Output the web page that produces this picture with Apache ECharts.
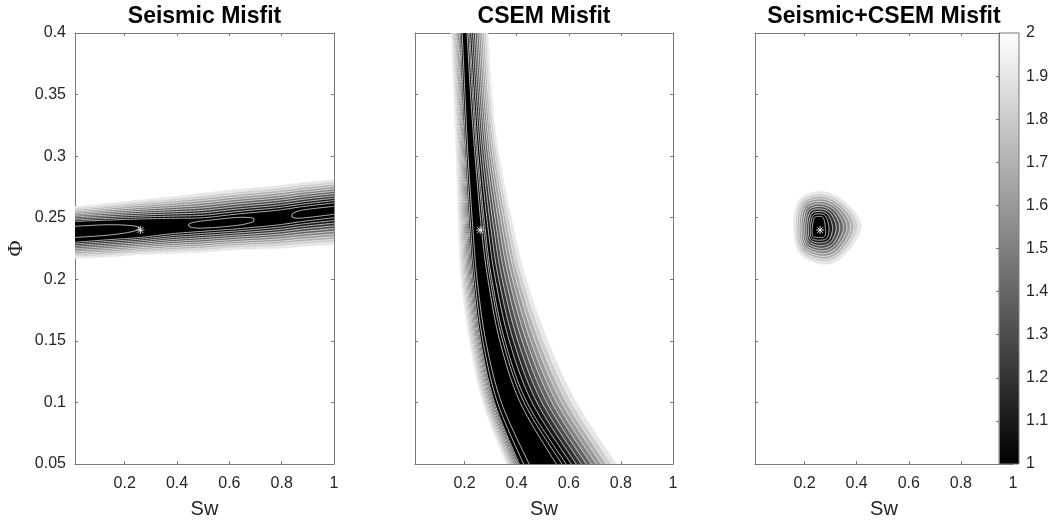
<!DOCTYPE html>
<html>
<head>
<meta charset="utf-8">
<script src="https://cdn.jsdelivr.net/npm/echarts@6/dist/echarts.min.js"></script>
<style>
  html, body { margin: 0; padding: 0; background: #ffffff; }
  #chart { width: 1055px; height: 525px; }
</style>
</head>
<body>
<div id="chart"></div>
<script>
// ---------------------------------------------------------------------------
// Data
// ---------------------------------------------------------------------------
// Contour levels of the misfit surfaces; colour axis spans 1 (black) .. 2 (white)
const contourLevels = [0.9, 0.95, 1.0, 1.1, 1.2, 1.3, 1.4, 1.5, 1.6, 1.7, 1.8, 1.9, 2.0];
const colorRange = [1, 2];
const swRange = [0.01, 1];
const phiRange = [0.05, 0.4];
const swTicks = [0.2, 0.4, 0.6, 0.8, 1];
const phiTickStep = 0.05;
const colorTickStep = 0.1;
// true model (Sw, Phi)
const trueModel = [0.26, 0.24];

// Seismic misfit valley, sampled along Sw: Phi of the misfit-2 and misfit-1 edges, and valley floor
const seisSw      = [0.01, 0.13, 0.26, 0.38, 0.50, 0.63, 0.78, 0.88, 1.00];
const seisOuterLo = [0.217, 0.218, 0.220, 0.221, 0.222, 0.224, 0.225, 0.2265, 0.228];
const seisCoreLo  = [0.230, 0.232, 0.234, 0.237, 0.239, 0.241, 0.244, 0.247, 0.250];
const seisCoreHi  = [0.247, 0.248, 0.249, 0.2495, 0.250, 0.253, 0.256, 0.259, 0.262];
const seisOuterHi = [0.259, 0.2615, 0.2645, 0.267, 0.270, 0.273, 0.276, 0.2785, 0.281];
const seisFloor   = [0.93, 0.93, 0.95, 0.97, 0.93, 0.93, 0.97, 0.93, 0.93];

// CSEM misfit valley, sampled along Phi: Sw of the misfit-2 and misfit-1 edges, and valley floor
const csemPhi     = [0.40, 0.35, 0.30, 0.24, 0.20, 0.15, 0.10, 0.05];
const csemOuterLo = [0.149, 0.159, 0.168, 0.177, 0.187, 0.219, 0.270, 0.360];
const csemCoreLo  = [0.181, 0.190, 0.202, 0.218, 0.233, 0.262, 0.315, 0.410];
const csemCoreHi  = [0.220, 0.235, 0.252, 0.280, 0.305, 0.355, 0.440, 0.590];
const csemOuterHi = [0.290, 0.305, 0.333, 0.390, 0.437, 0.520, 0.630, 0.783];
const csemFloor   = [0.87, 0.87, 0.86, 0.86, 0.85, 0.85, 0.85, 0.85];

// Joint misfit bowl: centre, misfit-1 and misfit-2 outlines (E, NE, N, NW, W, SW, S, SE)
const jointCentre = [0.255, 0.243];
const jointCoreSw  = [0.280, 0.272, 0.255, 0.238, 0.230, 0.232, 0.255, 0.278];
const jointCorePhi = [0.242, 0.250, 0.251, 0.250, 0.242, 0.235, 0.234, 0.235];
const jointOuterSw  = [0.418, 0.360, 0.270, 0.181, 0.158, 0.181, 0.280, 0.360];
const jointOuterPhi = [0.243, 0.262, 0.2714, 0.265, 0.243, 0.221, 0.212, 0.221];
const jointFloor = 0.96;

// ---------------------------------------------------------------------------
// Styling
// ---------------------------------------------------------------------------
const fontFamily = '"Liberation Sans", Arial, Helvetica, sans-serif';
const textColor = '#262626';
const frameColor = '#7a7a7a';
const lineColor = 'rgba(238,238,238,0.95)';
const lineWidth = 0.8;
const gridTop = 33, gridHeight = 431;
const panels = [
  { left: 75,  width: 259, title: 'Seismic Misfit',      showY: true  },
  { left: 415, width: 258, title: 'CSEM Misfit',         showY: false },
  { left: 755, width: 258, title: 'Seismic+CSEM Misfit', showY: false }
];
const colorbarBox = { left: 999, width: 20 };

const levelsAsc = contourLevels.slice().sort((a, b) => a - b);
const levelsDesc = levelsAsc.slice().reverse();

// the band just below contour c is coloured by its lower level
function lowerLevel(c) {
  const i = levelsAsc.indexOf(c);
  return i > 0 ? levelsAsc[i - 1] : c - 0.05;
}

// MATLAB-like 64-entry grey colormap lookup
function bandColor(level) {
  const v = (level - colorRange[0]) / (colorRange[1] - colorRange[0]);
  if (v < 0) return '#000000';
  const idx = Math.min(63, Math.floor(v * 64 + 1e-9));
  const g = Math.round(idx / 63 * 255);
  return 'rgb(' + g + ',' + g + ',' + g + ')';
}

// Catmull-Rom smoothing of sampled values (open and closed)
function smoothOpen(vals, seg) {
  const n = vals.length, out = [];
  for (let i = 0; i < n - 1; i++) {
    const p0 = vals[Math.max(i - 1, 0)], p1 = vals[i], p2 = vals[i + 1], p3 = vals[Math.min(i + 2, n - 1)];
    for (let k = 0; k < seg; k++) {
      const t = k / seg, t2 = t * t, t3 = t2 * t;
      out.push(0.5 * (2 * p1 + (-p0 + p2) * t + (2 * p0 - 5 * p1 + 4 * p2 - p3) * t2 + (-p0 + 3 * p1 - 3 * p2 + p3) * t3));
    }
  }
  out.push(vals[n - 1]);
  return out;
}
function smoothClosed(vals, seg) {
  const n = vals.length, out = [];
  for (let i = 0; i < n; i++) {
    const p0 = vals[(i - 1 + n) % n], p1 = vals[i], p2 = vals[(i + 1) % n], p3 = vals[(i + 2) % n];
    for (let k = 0; k < seg; k++) {
      const t = k / seg, t2 = t * t, t3 = t2 * t;
      out.push(0.5 * (2 * p1 + (-p0 + p2) * t + (2 * p0 - 5 * p1 + 4 * p2 - p3) * t2 + (-p0 + 3 * p1 - 3 * p2 + p3) * t3));
    }
  }
  return out;
}

function makeBand(along, pos, outerLo, coreLo, coreHi, outerHi, floor) {
  const seg = 24;
  return {
    along: along,
    pos: smoothOpen(pos, seg),
    outerLo: smoothOpen(outerLo, seg),
    coreLo: smoothOpen(coreLo, seg),
    coreHi: smoothOpen(coreHi, seg),
    outerHi: smoothOpen(outerHi, seg),
    floor: smoothOpen(floor, seg)
  };
}
const seisBand = makeBand('x', seisSw, seisOuterLo, seisCoreLo, seisCoreHi, seisOuterHi, seisFloor);
const csemBand = makeBand('y', csemPhi, csemOuterLo, csemCoreLo, csemCoreHi, csemOuterHi, csemFloor);

// Filled contour of a valley-shaped surface: region {misfit < c} for each level c
function bandRenderer(band) {
  return function (params, api) {
    const c = api.value(0);
    const N = band.pos.length;
    const toPx = (p, v) => band.along === 'x' ? api.coord([p, v]) : api.coord([v, p]);
    const lo = new Array(N), hi = new Array(N), ok = new Array(N);
    for (let j = 0; j < N; j++) {
      const cl = band.coreLo[j], ch = band.coreHi[j];
      if (c >= 1) {
        const f = c - 1;
        lo[j] = cl + (band.outerLo[j] - cl) * f;
        hi[j] = ch + (band.outerHi[j] - ch) * f;
        ok[j] = true;
      } else {
        const fl = band.floor[j];
        if (fl >= c) { ok[j] = false; continue; }
        const f = Math.sqrt((c - fl) / (1 - fl));
        const mid = (cl + ch) / 2;
        lo[j] = mid - (mid - cl) * f;
        hi[j] = mid + (ch - mid) * f;
        ok[j] = true;
      }
    }
    const children = [];
    const fill = bandColor(lowerLevel(c));
    let j = 0;
    while (j < N) {
      if (!ok[j]) { j++; continue; }
      const s = j;
      while (j < N && ok[j]) j++;
      const e = j - 1;
      const hiPts = [], loPts = [];
      for (let k = s; k <= e; k++) {
        hiPts.push(toPx(band.pos[k], hi[k]));
        loPts.push(toPx(band.pos[k], lo[k]));
      }
      const ring = hiPts.concat(loPts.slice().reverse());
      children.push({ type: 'polygon', z2: params.dataIndex * 2,
        shape: { points: ring }, style: { fill: fill, stroke: null } });
      const touchS = s === 0, touchE = e === N - 1;
      const strokes = [];
      if (touchS && touchE) { strokes.push(hiPts, loPts); }
      else if (touchS) { strokes.push(hiPts.concat(loPts.slice().reverse())); }
      else if (touchE) { strokes.push(loPts.slice().reverse().concat(hiPts)); }
      else { strokes.push(ring.concat([ring[0]])); }
      strokes.forEach(pts => children.push({ type: 'polyline', z2: params.dataIndex * 2 + 1,
        shape: { points: pts }, style: { fill: null, stroke: lineColor, lineWidth: lineWidth } }));
    }
    return { type: 'group', children: children };
  };
}

// Filled contour of the joint bowl
const jointSeg = 12;
const jCoreSw = smoothClosed(jointCoreSw, jointSeg), jCorePhi = smoothClosed(jointCorePhi, jointSeg);
const jOutSw = smoothClosed(jointOuterSw, jointSeg), jOutPhi = smoothClosed(jointOuterPhi, jointSeg);
function jointRenderer(params, api) {
  const c = api.value(0);
  let f, pts = [];
  if (c >= 1) {
    f = c - 1;
    for (let k = 0; k < jCoreSw.length; k++) {
      pts.push(api.coord([jCoreSw[k] + (jOutSw[k] - jCoreSw[k]) * f, jCorePhi[k] + (jOutPhi[k] - jCorePhi[k]) * f]));
    }
  } else {
    if (jointFloor >= c) return { type: 'group', children: [] };
    f = Math.sqrt((c - jointFloor) / (1 - jointFloor));
    for (let k = 0; k < jCoreSw.length; k++) {
      pts.push(api.coord([jointCentre[0] + (jCoreSw[k] - jointCentre[0]) * f, jointCentre[1] + (jCorePhi[k] - jointCentre[1]) * f]));
    }
  }
  return { type: 'group', children: [
    { type: 'polygon', z2: params.dataIndex * 2, shape: { points: pts },
      style: { fill: bandColor(lowerLevel(c)), stroke: null } },
    { type: 'polyline', z2: params.dataIndex * 2 + 1, shape: { points: pts.concat([pts[0]]) },
      style: { fill: null, stroke: lineColor, lineWidth: lineWidth } }
  ] };
}

// White asterisk marking the true model
function starRenderer(params, api) {
  const p = api.coord([api.value(0), api.value(1)]);
  const r = 4, d = 3;
  const segs = [[[-r, 0], [r, 0]], [[0, -r], [0, r]], [[-d, -d], [d, d]], [[-d, d], [d, -d]]];
  return { type: 'group', children: segs.map(s => ({
    type: 'line', z2: 100,
    shape: { x1: p[0] + s[0][0], y1: p[1] + s[0][1], x2: p[0] + s[1][0], y2: p[1] + s[1][1] },
    style: { stroke: 'rgba(255,255,255,0.85)', lineWidth: 1 }
  })) };
}

// Colour bar: grey ramp from 1 (black) to 2 (white)
function colorbarRenderer(params, api) {
  const a = api.coord([0, colorRange[1]]);
  const b = api.coord([1, colorRange[0]]);
  return { type: 'rect', z2: 50,
    shape: { x: a[0], y: a[1], width: b[0] - a[0], height: b[1] - a[1] },
    style: {
      fill: new echarts.graphic.LinearGradient(0, 0, 0, 1, [
        { offset: 0, color: '#ffffff' }, { offset: 1, color: '#000000' }
      ]),
      stroke: frameColor, lineWidth: 1
    } };
}

// ---------------------------------------------------------------------------
// Option
// ---------------------------------------------------------------------------
const grids = [], xAxes = [], yAxes = [], series = [], graphics = [];
const tickLabelStyle = { color: textColor, fontSize: 16, fontFamily: fontFamily };

panels.forEach((p, i) => {
  grids.push({ left: p.left, top: gridTop, width: p.width, height: gridHeight, containLabel: false });
  ['bottom', 'top'].forEach(pos => xAxes.push({
    type: 'value', gridIndex: i, position: pos, min: swRange[0], max: swRange[1],
    axisLine: { show: true, onZero: false, lineStyle: { color: frameColor, width: 1 } },
    axisTick: { show: true, inside: true, length: 3, customValues: swTicks, lineStyle: { color: frameColor } },
    axisLabel: Object.assign({ show: pos === 'bottom', margin: 12, customValues: swTicks }, tickLabelStyle),
    splitLine: { show: false },
    name: pos === 'bottom' ? 'Sw' : '', nameLocation: 'middle', nameGap: 35,
    nameTextStyle: { color: textColor, fontSize: 20, fontFamily: fontFamily }
  }));
  ['left', 'right'].forEach(pos => yAxes.push({
    type: 'value', gridIndex: i, position: pos, min: phiRange[0], max: phiRange[1], interval: phiTickStep,
    axisLine: { show: true, onZero: false, lineStyle: { color: frameColor, width: 1 } },
    axisTick: { show: true, inside: true, length: 3, lineStyle: { color: frameColor } },
    axisLabel: Object.assign({ show: p.showY && pos === 'left', margin: 9 }, tickLabelStyle),
    splitLine: { show: false },
    name: (p.showY && pos === 'left') ? 'Φ' : '', nameLocation: 'middle', nameRotate: 90, nameGap: 48,
    nameTextStyle: { color: textColor, fontSize: 22, fontFamily: '"Liberation Serif", "DejaVu Serif", serif' }
  }));
  graphics.push({ type: 'text', x: p.left + p.width / 2, y: 17,
    style: { text: p.title, fill: '#000000', font: 'bold 23px ' + fontFamily, textAlign: 'center', textVerticalAlign: 'middle' } });
});

const levelData = levelsDesc.map(c => [c]);
series.push({ type: 'custom', xAxisIndex: 0, yAxisIndex: 0, renderItem: bandRenderer(seisBand), data: levelData, silent: true });
series.push({ type: 'custom', xAxisIndex: 2, yAxisIndex: 2, renderItem: bandRenderer(csemBand), data: levelData, silent: true });
series.push({ type: 'custom', xAxisIndex: 4, yAxisIndex: 4, renderItem: jointRenderer, data: levelData, silent: true });
[0, 2, 4].forEach(ai => series.push({ type: 'custom', xAxisIndex: ai, yAxisIndex: ai, renderItem: starRenderer,
  data: [trueModel], silent: true, z: 3 }));

// colour bar grid and axis
grids.push({ left: colorbarBox.left, top: gridTop, width: colorbarBox.width, height: gridHeight, containLabel: false });
xAxes.push({ type: 'value', gridIndex: 3, min: 0, max: 1, show: false });
yAxes.push({ type: 'value', gridIndex: 3, position: 'right', min: colorRange[0], max: colorRange[1], interval: colorTickStep,
  axisLine: { show: true, lineStyle: { color: frameColor, width: 1 } },
  axisTick: { show: true, inside: true, length: 3, lineStyle: { color: frameColor } },
  axisLabel: Object.assign({ show: true, margin: 7 }, tickLabelStyle),
  splitLine: { show: false }, z: 5 });
series.push({ type: 'custom', xAxisIndex: 6, yAxisIndex: 6, renderItem: colorbarRenderer, data: [[0, 1]], silent: true, z: 4 });

const chart = echarts.init(document.getElementById('chart'), null, { renderer: 'canvas' });
chart.setOption({
  animation: false,
  backgroundColor: '#ffffff',
  grid: grids,
  xAxis: xAxes,
  yAxis: yAxes,
  series: series,
  graphic: graphics
});
</script>
</body>
</html>
